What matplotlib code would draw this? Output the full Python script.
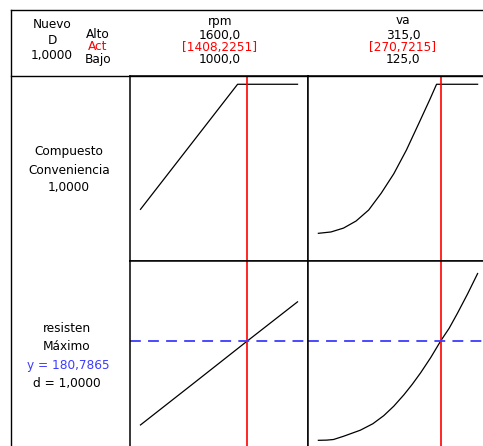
import matplotlib
matplotlib.use("Agg")
import matplotlib.pyplot as plt
from matplotlib.lines import Line2D

# factor settings
factors = ["rpm", "va"]
alto = ["1600,0", "315,0"]
act = ["[1408,2251]", "[270,7215]"]
bajo = ["1000,0", "125,0"]
act_vals = [1408.2251, 270.7215]

# composite desirability curves
rpm_d = [1000, 1371, 1600]
d_rpm = [0.259, 1.0, 1.0]
va_d = [125, 140, 155, 170, 185, 200, 215, 230, 245, 258, 266, 315]
d_va = [0.117, 0.125, 0.148, 0.190, 0.255, 0.355, 0.47, 0.61, 0.77, 0.91, 1.0, 1.0]

# resisten response curves
rpm_r = [1000, 1200, 1400, 1600]
res_rpm = [139.2, 159.5, 179.9, 200.1]
va_r = [125, 135, 143, 155, 175, 190, 203, 215, 227, 237, 247, 259, 271, 281, 291, 303, 315]
res_va = [131.6, 131.7, 132.0, 133.6, 136.6, 139.8, 143.8, 148.5, 154.1, 159.3, 165.0, 172.5, 180.8, 187.0, 194.5, 204.0, 214.1]
y_resist = 180.7865

W, H = 483, 446
fig = plt.figure(figsize=(W / 100, H / 100), dpi=100)

def rect(x0, y0, x1, y1):
    return [x0 / W, 1 - y1 / H, (x1 - x0) / W, (y1 - y0) / H]

def ftext(x, y, s, color="black", **kw):
    fig.text(x / W, 1 - y / H, s, ha="center", va="center", fontsize=8.7,
             color=color, family="DejaVu Sans", **kw)

def fline(xs, ys, lw=1.0):
    fig.add_artist(Line2D([x / W for x in xs], [1 - y / H for y in ys],
                          color="black", lw=lw, transform=fig.transFigure))

cols = [(130, 308), (308, 487)]
rows = [(76, 261), (261, 448)]
xlims = [(960, 1640), (112.6, 326.2)]
ylims = [(-0.047, 1.049), (127.8, 220.3)]
curves = [[(rpm_d, d_rpm), (va_d, d_va)],
          [(rpm_r, res_rpm), (va_r, res_va)]]

for i, (y0, y1) in enumerate(rows):
    for j, (x0, x1) in enumerate(cols):
        ax = fig.add_axes(rect(x0, y0, x1, y1))
        xs, ys = curves[i][j]
        ax.plot(xs, ys, color="black", lw=0.9)
        ax.axvline(act_vals[j], color="#ff0000", lw=1.2)
        if i == 1:
            ax.axhline(y_resist, color="#3c3cff", lw=1.3, ls=(0, (6, 4)))
        ax.set_xlim(xlims[j])
        ax.set_ylim(ylims[i])
        ax.set_xticks([])
        ax.set_yticks([])
        for sp in ax.spines.values():
            sp.set_linewidth(1.1)

# outer frame and header line
fline([11, 11], [10, 446])
fline([11, 483], [10, 10])
fline([11, 483], [76, 76])

# header
ftext(52, 24, "Nuevo")
ftext(52, 40, "D")
ftext(52, 55, "1,0000")
ftext(98, 34, "Alto")
ftext(98, 47, "Act", color="#ff0000")
ftext(98, 60, "Bajo")
for j, xc in enumerate([220, 403]):
    ftext(xc, 21, factors[j])
    ftext(xc, 35, alto[j])
    ftext(xc, 47, act[j], color="#ff0000")
    ftext(xc, 59, bajo[j])

# row labels
ftext(69, 152, "Compuesto")
ftext(69, 170, "Conveniencia")
ftext(69, 188, "1,0000")
ftext(67, 328, "resisten")
ftext(67, 346, "Máximo")
ftext(68, 365, "y = 180,7865", color="#3c3cff")
ftext(67, 383, "d = 1,0000")

fig.savefig("out.png", dpi=100)
